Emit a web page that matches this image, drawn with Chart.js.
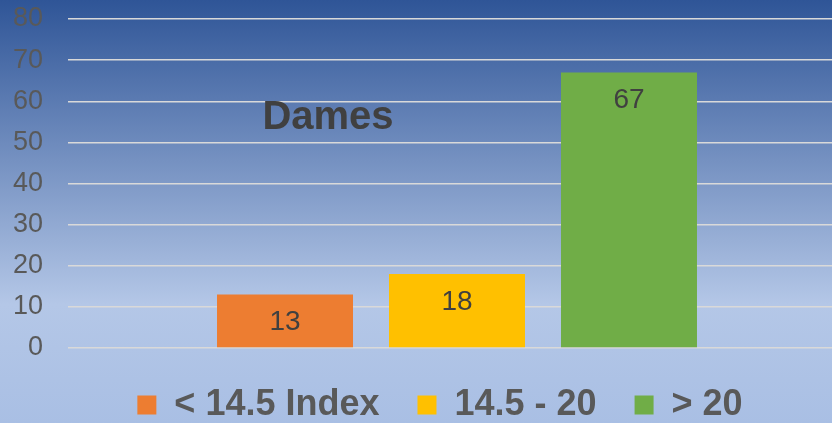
<!DOCTYPE html>
<html>
<head>
<meta charset="utf-8">
<script src="https://cdn.jsdelivr.net/npm/chart.js@4/dist/chart.umd.min.js"></script>
<style>
  html, body { margin: 0; padding: 0; width: 832px; height: 423px; overflow: hidden; }
  body { background: linear-gradient(to bottom, #2F5597 0%, #B4C7E7 72%, #A9BFE4 100%); }
  #wrap { position: relative; width: 880px; height: 433px; }
</style>
</head>
<body>
<div id="wrap"><canvas id="c" width="880" height="433"></canvas></div>
<script>
const categories = ['Dames'];
const seriesNames = ['< 14.5 Index', '14.5 - 20', '> 20'];
const seriesValues = [[13], [18], [67]];
const seriesColors = ['#ED7D31', '#FFC000', '#70AD47'];
const yTicks = { min: 0, max: 80, step: 10 };
const chartTitle = 'Dames';

const FONT = "'Liberation Sans', Arial, sans-serif";

const labelPlugin = {
  id: 'valueLabels',
  afterDatasetsDraw(chart) {
    const ctx = chart.ctx;
    ctx.save();
    ctx.font = '28px ' + FONT;
    ctx.fillStyle = '#404040';
    ctx.textAlign = 'center';
    ctx.textBaseline = 'middle';
    chart.data.datasets.forEach((ds, i) => {
      const meta = chart.getDatasetMeta(i);
      meta.data.forEach((bar, j) => {
        ctx.fillText(String(ds.data[j]), bar.x, bar.y + 28);
      });
    });
    ctx.restore();
  }
};

const titlePlugin = {
  id: 'innerTitle',
  afterDraw(chart) {
    const ctx = chart.ctx;
    const y = chart.scales.y;
    const x = chart.scales.x;
    ctx.save();
    ctx.font = 'bold 40px ' + FONT;
    ctx.fillStyle = '#404040';
    ctx.textAlign = 'center';
    ctx.textBaseline = 'middle';
    ctx.fillText(chartTitle, x.left + 260, y.getPixelForValue(56));
    ctx.restore();
  }
};

new Chart(document.getElementById('c'), {
  type: 'bar',
  data: {
    labels: categories,
    datasets: seriesNames.map((name, i) => ({
      label: name,
      data: seriesValues[i],
      backgroundColor: seriesColors[i],
      borderWidth: 0,
      categoryPercentage: 0.6632,
      barPercentage: 0.7907
    }))
  },
  options: {
    responsive: false,
    animation: false,
    layout: { padding: { top: 19, left: 0, right: 0, bottom: 0 } },
    scales: {
      x: {
        display: true,
        grid: { display: false, drawTicks: false },
        border: { display: false },
        ticks: { display: false },
        afterFit: s => { s.height = 1; }
      },
      y: {
        min: yTicks.min,
        max: yTicks.max,
        ticks: {
          stepSize: yTicks.step,
          padding: 0,
          color: '#595959',
          font: { family: FONT, size: 27 }
        },
        grid: { color: '#D9D9D9', lineWidth: 1.5, drawTicks: true, tickLength: 25, tickColor: 'rgba(0,0,0,0)' },
        border: { display: false },
        afterFit: s => { s.width = 68; }
      },
      y2: {
        position: 'right',
        display: true,
        grid: { display: false, drawTicks: false },
        border: { display: false },
        ticks: { display: false },
        afterFit: s => { s.width = 34; }
      }
    },
    plugins: {
      legend: {
        position: 'bottom',
        labels: {
          boxWidth: 19,
          boxHeight: 19,
          padding: 38,
          color: '#595959',
          font: { family: FONT, size: 36, weight: 'bold' }
        }
      },
      tooltip: { enabled: false },
      title: { display: false }
    }
  },
  plugins: [labelPlugin, titlePlugin]
});
</script>
</body>
</html>
